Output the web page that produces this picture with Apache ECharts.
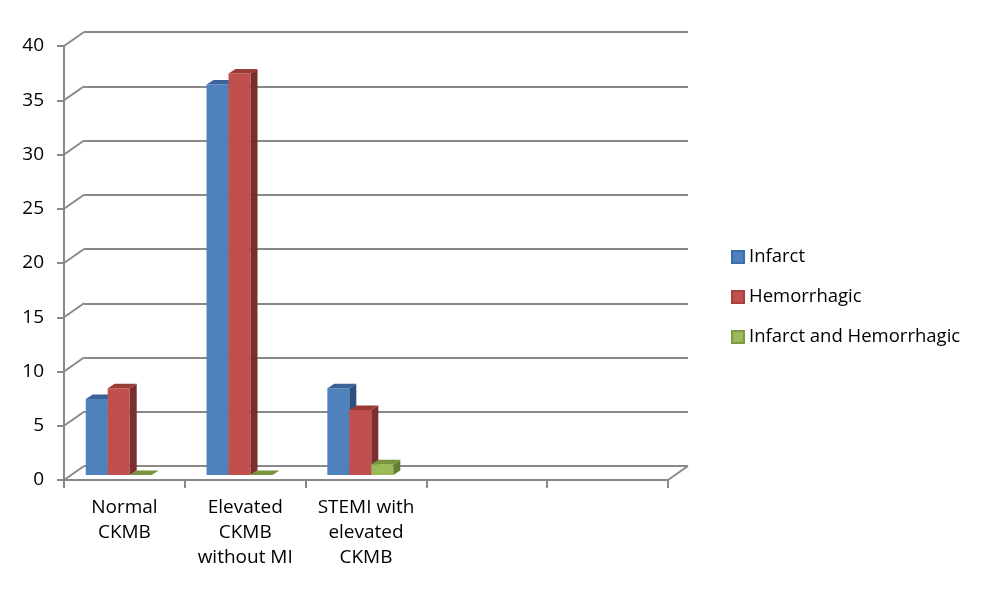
<!DOCTYPE html>
<html>
<head>
<meta charset="utf-8">
<script src="https://cdn.jsdelivr.net/npm/echarts@6/dist/echarts.min.js"></script>
<style>html,body{margin:0;padding:0;background:#fff;}#c{width:986px;height:593px;}</style>
</head>
<body>
<div id="c"></div>
<script>
const categories = ['Normal\nCKMB', 'Elevated\nCKMB\nwithout MI', 'STEMI with\nelevated\nCKMB', '', ''];
const seriesNames = ['Infarct', 'Hemorrhagic', 'Infarct and Hemorrhagic'];
const infarct = [7, 36, 8];
const hemorrhagic = [8, 37, 6];
const infarctHemorrhagic = [0, 0, 1];
const yTicks = [0, 5, 10, 15, 20, 25, 30, 35, 40];

const palettes = [
  { front: '#4F81BD', top: '#3B639A', side: '#2E5080', border: '#3A6FAE' },
  { front: '#C0504D', top: '#9A3B38', side: '#7B2F2D', border: '#A9403D' },
  { front: '#9BBB59', top: '#77933C', side: '#667F33', border: '#7E9C45' }
];
const gridColor = '#898989';
const font = 'Open Sans';
const DX = 7, DY = -4.5, LIFT = 5;

function barRenderer(si) {
  return function (params, api) {
    const cat = api.value(0), v = api.value(1);
    const base = api.coord([cat, 0]);
    const top = api.coord([cat, v]);
    const bw = api.size([1, 0])[0];
    const w = bw * 0.182;
    const x0 = base[0] + bw * (-0.32 + 0.182 * si);
    const yb = base[1] - LIFT, yt = top[1] - LIFT;
    const p = palettes[si];
    const children = [];
    if (yb - yt > 0.5) {
      children.push({ type: 'rect', shape: { x: x0, y: yt, width: w, height: yb - yt }, style: { fill: p.front } });
    }
    children.push({ type: 'polygon', shape: { points: [[x0 + w, yt], [x0 + w + DX, yt + DY], [x0 + w + DX, yb + DY], [x0 + w, yb]] }, style: { fill: p.side } });
    children.push({ type: 'polygon', shape: { points: [[x0, yt], [x0 + w, yt], [x0 + w + DX, yt + DY], [x0 + DX, yt + DY]] }, style: { fill: p.top } });
    return { type: 'group', children: children };
  };
}

const seriesData = [infarct, hemorrhagic, infarctHemorrhagic];
const barSeries = seriesData.map((arr, si) => ({
  name: seriesNames[si],
  type: 'custom',
  xAxisIndex: 0, yAxisIndex: 0,
  z: 5 + si,
  renderItem: barRenderer(si),
  itemStyle: { color: palettes[si].front, borderColor: palettes[si].border, borderWidth: 1 },
  encode: { x: 0, y: 1 },
  data: arr.map((v, i) => [i, v])
}));

const diagSeries = {
  type: 'custom', xAxisIndex: 0, yAxisIndex: 0, silent: true, z: 1,
  renderItem: function (params, api) {
    const y = api.coord([0, api.value(0)])[1];
    const x = params.coordSys.x;
    return { type: 'line', shape: { x1: x, y1: y, x2: x + 20, y2: y - 14 }, style: { stroke: gridColor, lineWidth: 2 } };
  },
  encode: { y: 0 },
  data: yTicks.map(t => [t])
};
const rightDiag = {
  type: 'custom', xAxisIndex: 0, yAxisIndex: 0, silent: true, z: 1,
  renderItem: function (params, api) {
    const y = api.coord([0, api.value(0)])[1];
    const x = params.coordSys.x + params.coordSys.width;
    return { type: 'line', shape: { x1: x, y1: y, x2: x + 20, y2: y - 14 }, style: { stroke: gridColor, lineWidth: 2 } };
  },
  encode: { y: 0 },
  data: [[yTicks[0]]]
};

const chart = echarts.init(document.getElementById('c'), null, { renderer: 'canvas' });
chart.setOption({
  backgroundColor: '#fff',
  animation: false,
  textStyle: { fontFamily: font },
  grid: [
    { left: 64, top: 46, width: 604, height: 434 },
    { left: 84, top: 32, width: 604, height: 434 }
  ],
  xAxis: [
    {
      gridIndex: 0, type: 'category', data: categories, boundaryGap: true,
      axisLine: { show: true, lineStyle: { color: gridColor, width: 2 } },
      axisTick: { show: true, length: 8, interval: 0, lineStyle: { color: gridColor, width: 2 } },
      axisLabel: { interval: 0, color: '#000', fontFamily: font, fontSize: 19, lineHeight: 25, margin: 15 },
      splitLine: { show: false }
    },
    { gridIndex: 1, type: 'category', data: categories, show: false }
  ],
  yAxis: [
    {
      gridIndex: 0, type: 'value', min: 0, max: 40, interval: 5,
      axisLine: { show: true, lineStyle: { color: gridColor, width: 2 } },
      axisTick: { show: true, length: 7, lineStyle: { color: gridColor, width: 2 } },
      axisLabel: { color: '#000', fontFamily: font, fontSize: 19, margin: 20 },
      splitLine: { show: false }
    },
    {
      gridIndex: 1, type: 'value', min: 0, max: 40, interval: 5,
      axisLine: { show: false }, axisTick: { show: false }, axisLabel: { show: false },
      splitLine: { show: true, lineStyle: { color: gridColor, width: 2 } }
    }
  ],
  legend: {
    orient: 'vertical', left: 731, top: 247, padding: 0, itemWidth: 12, itemHeight: 12, itemGap: 20,
    icon: 'rect',
    textStyle: { color: '#000', fontFamily: font, fontSize: 18.5, lineHeight: 20 },
    data: seriesNames
  },
  series: [diagSeries, rightDiag].concat(barSeries)
});
</script>
</body>
</html>
